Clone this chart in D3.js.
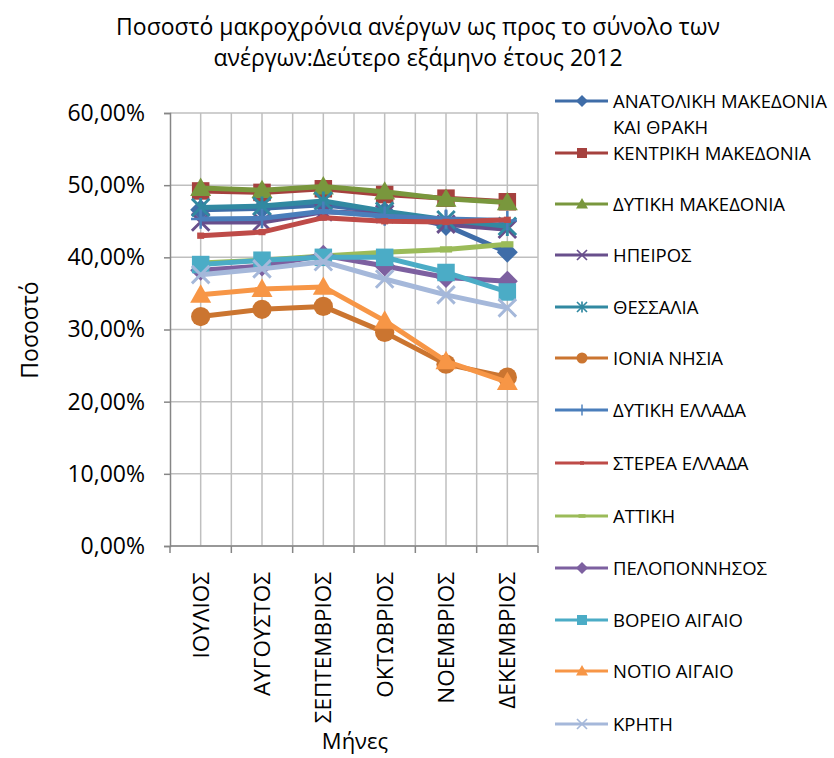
<!DOCTYPE html>
<html>
<head>
<meta charset="utf-8">
<script src="https://cdn.jsdelivr.net/npm/d3@7"></script>
<style>
  body { margin: 0; background: #fff; }
  text { font-family: "Open Sans", "Noto Sans", sans-serif; fill: #000; }
</style>
</head>
<body>
<div id="chart"></div>
<script>
var months = ["ΙΟΥΛΙΟΣ", "ΑΥΓΟΥΣΤΟΣ", "ΣΕΠΤΕΜΒΡΙΟΣ", "ΟΚΤΩΒΡΙΟΣ", "ΝΟΕΜΒΡΙΟΣ", "ΔΕΚΕΜΒΡΙΟΣ"];
var regions = ["ΑΝΑΤΟΛΙΚΗ ΜΑΚΕΔΟΝΙΑ ΚΑΙ ΘΡΑΚΗ", "ΚΕΝΤΡΙΚΗ ΜΑΚΕΔΟΝΙΑ", "ΔΥΤΙΚΗ ΜΑΚΕΔΟΝΙΑ", "ΗΠΕΙΡΟΣ",
  "ΘΕΣΣΑΛΙΑ", "ΙΟΝΙΑ ΝΗΣΙΑ", "ΔΥΤΙΚΗ ΕΛΛΑΔΑ", "ΣΤΕΡΕΑ ΕΛΛΑΔΑ", "ΑΤΤΙΚΗ", "ΠΕΛΟΠΟΝΝΗΣΟΣ",
  "ΒΟΡΕΙΟ ΑΙΓΑΙΟ", "ΝΟΤΙΟ ΑΙΓΑΙΟ", "ΚΡΗΤΗ"];
// percentages per region, Jul..Dec
var values = [
  [46.6, 46.8, 47.3, 46.3, 44.4, 40.7],
  [49.2, 49.0, 49.5, 48.7, 48.2, 47.7],
  [49.6, 49.3, 49.8, 49.1, 48.1, 47.6],
  [44.9, 44.9, 46.3, 46.0, 44.6, 43.9],
  [46.9, 47.1, 47.8, 46.4, 45.2, 44.3],
  [31.8, 32.8, 33.2, 29.6, 25.2, 23.4],
  [45.3, 45.4, 46.4, 45.7, 45.3, 45.1],
  [43.0, 43.5, 45.5, 45.0, 44.9, 45.2],
  [39.2, 39.6, 40.2, 40.7, 41.1, 41.8],
  [38.2, 38.8, 40.3, 38.8, 37.2, 36.7],
  [39.0, 39.6, 40.0, 40.0, 37.9, 35.2],
  [34.8, 35.6, 35.9, 31.2, 25.6, 22.7],
  [37.6, 38.4, 39.4, 37.0, 34.8, 33.0]
];
var yTicks = [0, 10, 20, 30, 40, 50, 60];
var colors = ["#3F6DA8", "#A5413E", "#79973D", "#684F8C", "#3189A1", "#CB7530", "#4A7EBB",
  "#BE4B48", "#9BBB59", "#7D60A0", "#4BACC6", "#F79646", "#A5B8DA"];
var markers = ["diamond", "square", "triangle", "x", "star", "circle", "plus", "dash", "longdash",
  "diamond", "square", "triangle", "x"];

var svg = d3.select("#chart").append("svg")
  .attr("width", 834).attr("height", 758);

var plotLeft = 170, plotRight = 538, plotTop = 113, plotBottom = 546;

var x = d3.scaleBand().domain(months).range([plotLeft, plotRight]);
var y = d3.scaleLinear().domain([0, 60]).range([plotBottom, plotTop]);

// gridlines
var grid = svg.append("g");
yTicks.forEach(function (t) {
  grid.append("line").attr("x1", plotLeft).attr("x2", plotRight)
    .attr("y1", y(t)).attr("y2", y(t)).attr("stroke", "#BFBFBF").attr("stroke-width", 1.5);
});
months.forEach(function (m, i) {
  grid.append("line").attr("x1", x(m) + x.bandwidth() / 2).attr("x2", x(m) + x.bandwidth() / 2)
    .attr("y1", plotTop).attr("y2", plotBottom).attr("stroke", "#BFBFBF").attr("stroke-width", 1.5);
  grid.append("line").attr("x1", x(m) + x.bandwidth()).attr("x2", x(m) + x.bandwidth())
    .attr("y1", plotTop).attr("y2", plotBottom).attr("stroke", "#BFBFBF").attr("stroke-width", 1.5);
});

// axes
var yAxis = d3.axisLeft(y).tickValues(yTicks).tickSize(6).tickPadding(19)
  .tickFormat(function (d) { return d3.format(".2f")(d).replace(".", ",") + "%"; });
var gy = svg.append("g").attr("transform", "translate(" + plotLeft + ",0)").call(yAxis);
gy.select(".domain").attr("stroke", "#868686").attr("stroke-width", 1.5);
gy.selectAll(".tick line").attr("stroke", "#868686").attr("stroke-width", 1.5);
gy.selectAll(".tick text").attr("font-size", "23px").attr("font-family", "Open Sans").attr("fill", "#000");

var gx = svg.append("g").attr("transform", "translate(0," + plotBottom + ")");
gx.append("line").attr("x1", plotLeft).attr("x2", plotRight).attr("stroke", "#868686").attr("stroke-width", 1.5);
d3.range(months.length + 1).forEach(function (i) {
  var xx = plotLeft + i * x.bandwidth();
  gx.append("line").attr("x1", xx).attr("x2", xx).attr("y1", 0).attr("y2", 7)
    .attr("stroke", "#868686").attr("stroke-width", 1.5);
});
months.forEach(function (m) {
  gx.append("text")
    .attr("transform", "translate(" + (x(m) + x.bandwidth() / 2 + 8) + ",26) rotate(-90)")
    .attr("text-anchor", "end")
    .attr("font-size", "22.5px")
    .text(m);
});

function markerPath(g, type, cx, cy, s, color) {
  if (type == "diamond") {
    g.append("path").attr("d", "M" + cx + "," + (cy - s * 0.6) + "L" + (cx + s * 0.6) + "," + cy +
      "L" + cx + "," + (cy + s * 0.6) + "L" + (cx - s * 0.6) + "," + cy + "Z").attr("fill", color);
  } else if (type == "square") {
    g.append("rect").attr("x", cx - s / 2).attr("y", cy - s / 2).attr("width", s).attr("height", s)
      .attr("fill", color);
  } else if (type == "triangle") {
    g.append("path").attr("d", "M" + cx + "," + (cy - s * 0.6) + "L" + (cx + s * 0.6) + "," + (cy + s * 0.45) +
      "L" + (cx - s * 0.6) + "," + (cy + s * 0.45) + "Z").attr("fill", color);
  } else if (type == "circle") {
    g.append("circle").attr("cx", cx).attr("cy", cy).attr("r", s * 0.55).attr("fill", color);
  } else if (type == "x" || type == "star") {
    var h = s * 0.5;
    g.append("path").attr("d", "M" + (cx - h) + "," + (cy - h) + "L" + (cx + h) + "," + (cy + h) +
      "M" + (cx - h) + "," + (cy + h) + "L" + (cx + h) + "," + (cy - h) +
      (type == "star" ? "M" + cx + "," + (cy - h * 1.1) + "L" + cx + "," + (cy + h * 1.1) : ""))
      .attr("stroke", color).attr("stroke-width", s / 6).attr("fill", "none");
  } else if (type == "plus") {
    var h2 = s * 0.55;
    g.append("path").attr("d", "M" + cx + "," + (cy - h2) + "L" + cx + "," + (cy + h2) +
      "M" + (cx - h2) + "," + cy + "L" + (cx + h2) + "," + cy)
      .attr("stroke", color).attr("stroke-width", s / 7).attr("fill", "none");
  } else if (type == "dash" || type == "longdash") {
    var w = type == "dash" ? s * 0.4 : s * 0.7;
    g.append("rect").attr("x", cx - w / 2).attr("y", cy - s * 0.18).attr("width", w).attr("height", s * 0.36)
      .attr("fill", color);
  }
}

var line = d3.line()
  .x(function (d, i) { return x(months[i]) + x.bandwidth() / 2; })
  .y(function (d) { return y(d); });

var plot = svg.append("g");
values.forEach(function (vals, k) {
  var g = plot.append("g");
  g.append("path").datum(vals).attr("d", line)
    .attr("fill", "none").attr("stroke", colors[k]).attr("stroke-width", 5)
    .attr("stroke-linejoin", "round");
  vals.forEach(function (v, i) {
    markerPath(g, markers[k], x(months[i]) + x.bandwidth() / 2, y(v), 17.5, colors[k]);
  });
});

// legend
var legend = svg.append("g");
var legendY = [101, 153, 204, 255, 307, 358, 410, 463, 516, 568, 620, 671, 724];
regions.forEach(function (r, k) {
  var ly = legendY[k];
  legend.append("line").attr("x1", 555).attr("x2", 608).attr("y1", ly).attr("y2", ly)
    .attr("stroke", colors[k]).attr("stroke-width", 3);
  markerPath(legend, markers[k], 582, ly, 10, colors[k]);
  var t = legend.append("text").attr("x", 613).attr("y", ly + 7).attr("font-size", "18.5px");
  if (k == 0) {
    t.append("tspan").attr("x", 613).text("ΑΝΑΤΟΛΙΚΗ ΜΑΚΕΔΟΝΙΑ");
    t.append("tspan").attr("x", 613).attr("dy", 26).text("ΚΑΙ ΘΡΑΚΗ");
  } else {
    t.text(r);
  }
});

// titles
svg.append("text").attr("x", 418).attr("y", 35).attr("text-anchor", "middle").attr("font-size", "23px")
  .text("Ποσοστό μακροχρόνια ανέργων ως προς το σύνολο των");
svg.append("text").attr("x", 418).attr("y", 66).attr("text-anchor", "middle").attr("font-size", "23px")
  .text("ανέργων:Δεύτερο εξάμηνο έτους 2012");
svg.append("text").attr("transform", "translate(38,330) rotate(-90)").attr("text-anchor", "middle")
  .attr("font-size", "23px").text("Ποσοστό");
svg.append("text").attr("x", 355).attr("y", 749).attr("text-anchor", "middle")
  .attr("font-size", "22px").text("Μήνες");
</script>
</body>
</html>
